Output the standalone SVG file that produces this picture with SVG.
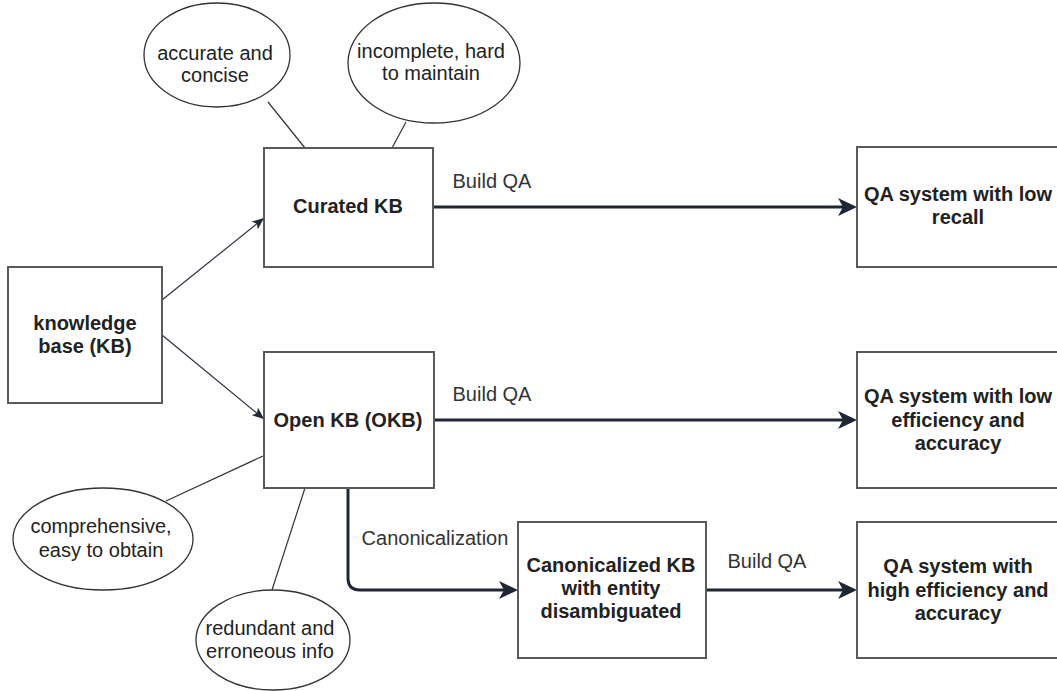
<svg xmlns="http://www.w3.org/2000/svg" width="1057" height="691" viewBox="0 0 1057 691">
<style>
  .box { fill: #ffffff; stroke: #5a5a5a; stroke-width: 2; }
  .ell { fill: #ffffff; stroke: #333333; stroke-width: 1.3; }
  .t { font-family: "Liberation Sans", Arial, sans-serif; font-size: 20px; fill: #222222; text-anchor: middle; }
  .b { font-weight: bold; }
  .lbl { font-family: "Liberation Sans", Arial, sans-serif; font-size: 20px; fill: #333333; text-anchor: middle; }
  .thin { fill: none; stroke: #2a3240; stroke-width: 1.2; }
  .thick { fill: none; stroke: #1e2736; stroke-width: 3; }
  .plain { fill: none; stroke: #333333; stroke-width: 1.2; }
</style>
<defs>
  <marker id="big" markerUnits="userSpaceOnUse" viewBox="0 0 20 20" refX="8" refY="10" markerWidth="20" markerHeight="20" orient="auto">
    <path d="M1,1 L20,10 L1,19 L6,10 Z" fill="#1e2736"/>
  </marker>
  <marker id="small" markerUnits="userSpaceOnUse" viewBox="0 0 12 10" refX="12" refY="5" markerWidth="12" markerHeight="10" orient="auto">
    <path d="M0,0 L12,5 L0,10 L3,5 Z" fill="#1e2736"/>
  </marker>
</defs>
<rect width="1057" height="691" fill="#ffffff"/>

<g id="connectors">
  <line class="plain" x1="268" y1="102" x2="305" y2="148"/>
  <line class="plain" x1="406" y1="122" x2="392" y2="148"/>
  <line class="plain" x1="166" y1="501" x2="263" y2="456"/>
  <line class="plain" x1="272" y1="590" x2="305" y2="488"/>
  <line class="thin" x1="162" y1="300" x2="264" y2="218" marker-end="url(#small)"/>
  <line class="thin" x1="162" y1="335" x2="264" y2="419" marker-end="url(#small)"/>
  <line class="thick" x1="434" y1="207" x2="845" y2="207" marker-end="url(#big)"/>
  <line class="thick" x1="434" y1="420" x2="845" y2="420" marker-end="url(#big)"/>
  <path class="thick" d="M348,488 L348,578 Q348,590 360,590 L506,590" marker-end="url(#big)"/>
  <line class="thick" x1="706" y1="590" x2="845" y2="590" marker-end="url(#big)"/>
  <text class="lbl" x="492" y="188">Build QA</text>
  <text class="lbl" x="492" y="401">Build QA</text>
  <text class="lbl" x="435" y="545">Canonicalization</text>
  <text class="lbl" x="767" y="568">Build QA</text>
</g>

<g id="kb">
  <rect class="box" x="8" y="267" width="154" height="136"/>
  <text class="t b" x="85" y="330">knowledge</text>
  <text class="t b" x="85" y="353">base (KB)</text>
</g>

<g id="curated">
  <rect class="box" x="264" y="148" width="169" height="119"/>
  <text class="t b" x="348" y="213">Curated KB</text>
</g>

<g id="okb">
  <rect class="box" x="264" y="352" width="170" height="136"/>
  <text class="t b" x="348" y="427">Open KB (OKB)</text>
</g>

<g id="canon">
  <rect class="box" x="518" y="522" width="188" height="136"/>
  <text class="t b" x="611" y="572">Canonicalized KB</text>
  <text class="t b" x="611" y="595">with entity</text>
  <text class="t b" x="611" y="618">disambiguated</text>
</g>

<g id="qa1">
  <rect class="box" x="857" y="147" width="204" height="120"/>
  <text class="t b" x="958" y="201">QA system with low</text>
  <text class="t b" x="958" y="224">recall</text>
</g>

<g id="qa2">
  <rect class="box" x="857" y="352" width="204" height="136"/>
  <text class="t b" x="958" y="403">QA system with low</text>
  <text class="t b" x="958" y="427">efficiency and</text>
  <text class="t b" x="958" y="450">accuracy</text>
</g>

<g id="qa3">
  <rect class="box" x="857" y="522" width="204" height="136"/>
  <text class="t b" x="958" y="573">QA system with</text>
  <text class="t b" x="958" y="597">high efficiency and</text>
  <text class="t b" x="958" y="620">accuracy</text>
</g>

<g id="e-accurate">
  <ellipse class="ell" cx="217" cy="55" rx="73" ry="52"/>
  <text class="t" x="215" y="60">accurate and</text>
  <text class="t" x="215" y="82">concise</text>
</g>

<g id="e-incomplete">
  <ellipse class="ell" cx="434" cy="63" rx="86" ry="60"/>
  <text class="t" x="431" y="58">incomplete, hard</text>
  <text class="t" x="431" y="80">to maintain</text>
</g>

<g id="e-comprehensive">
  <ellipse class="ell" cx="103" cy="539" rx="90" ry="51"/>
  <text class="t" x="101" y="533">comprehensive,</text>
  <text class="t" x="101" y="557">easy to obtain</text>
</g>

<g id="e-redundant">
  <ellipse class="ell" cx="273" cy="640" rx="77" ry="50"/>
  <text class="t" x="270" y="635">redundant and</text>
  <text class="t" x="270" y="658">erroneous info</text>
</g>
</svg>
